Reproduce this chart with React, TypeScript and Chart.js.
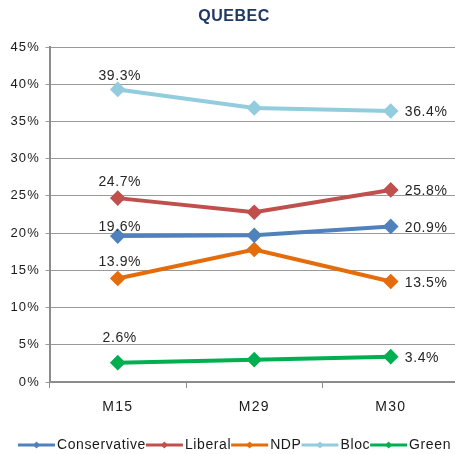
import React, { useEffect, useRef } from "react";
import { Chart, registerables } from "chart.js";

Chart.register(...registerables);

const categories = ["M15", "M29", "M30"];
const seriesNames = ["Conservative", "Liberal", "NDP", "Bloc", "Green"];
const conservative = [19.6, 19.7, 20.9];
const liberal = [24.7, 22.8, 25.8];
const ndp = [13.9, 17.8, 13.5];
const bloc = [39.3, 36.8, 36.4];
const green = [2.6, 3.0, 3.4];
const seriesValues = [conservative, liberal, ndp, bloc, green];
const seriesColors = ["#4F81BD", "#C0504D", "#E46C0A", "#93CDDD", "#00B050"];
const yTicks = [0, 5, 10, 15, 20, 25, 30, 35, 40, 45];
const titleText = "QUEBEC";

const FONT = "'Liberation Sans', Arial, sans-serif";
const firstLabelLift = [9, 16, 16, 13, 25];

const spacingPlugin = {
  id: "spacing",
  beforeDraw(chart: any) {
    (chart.ctx as any).letterSpacing = "1.2px";
  },
};

const titlePlugin = {
  id: "customTitle",
  afterDraw(chart: any) {
    const ctx = chart.ctx;
    ctx.save();
    (ctx as any).letterSpacing = "0.5px";
    ctx.font = `bold 16px ${FONT}`;
    ctx.fillStyle = "#1F3864";
    ctx.textAlign = "center";
    ctx.textBaseline = "middle";
    ctx.fillText(titleText, 234, 17);
    ctx.restore();
  },
};

const labelPlugin = {
  id: "valueLabels",
  afterDatasetsDraw(chart: any) {
    const ctx = chart.ctx;
    ctx.save();
    (ctx as any).letterSpacing = "0.6px";
    ctx.font = `14px ${FONT}`;
    ctx.fillStyle = "#262626";
    chart.data.datasets.forEach((ds: any, di: number) => {
      const meta = chart.getDatasetMeta(di);
      const p0 = meta.data[0];
      ctx.textAlign = "center";
      ctx.textBaseline = "middle";
      ctx.fillText(ds.data[0].toFixed(1) + "%", p0.x + 2, p0.y - firstLabelLift[di]);
      const last = meta.data.length - 1;
      const pl = meta.data[last];
      ctx.textAlign = "left";
      ctx.fillText(ds.data[last].toFixed(1) + "%", pl.x + 14, pl.y + 1.5);
    });
    ctx.restore();
  },
};

const legendPlugin = {
  id: "customLegend",
  afterDraw(chart: any) {
    const ctx = chart.ctx;
    ctx.save();
    (ctx as any).letterSpacing = "0.6px";
    ctx.font = `14px ${FONT}`;
    ctx.textBaseline = "middle";
    ctx.textAlign = "left";
    let x = 18;
    const y = 445;
    seriesNames.forEach((name, i) => {
      ctx.strokeStyle = seriesColors[i];
      ctx.lineWidth = 3;
      ctx.beginPath();
      ctx.moveTo(x, y);
      ctx.lineTo(x + 37, y);
      ctx.stroke();
      ctx.fillStyle = seriesColors[i];
      const cx = x + 18.5;
      const r = 3.5;
      ctx.beginPath();
      ctx.moveTo(cx, y - r);
      ctx.lineTo(cx + r, y);
      ctx.lineTo(cx, y + r);
      ctx.lineTo(cx - r, y);
      ctx.closePath();
      ctx.fill();
      ctx.fillStyle = "#1a1a1a";
      ctx.fillText(name, x + 39, y);
      x += 39 + ctx.measureText(name).width;
    });
    ctx.restore();
  },
};

export default function App() {
  const ref = useRef<HTMLCanvasElement | null>(null);
  useEffect(() => {
    if (!ref.current) return;
    const chart = new Chart(ref.current, {
      type: "line",
      data: {
        labels: categories,
        datasets: seriesNames.map((name, i) => ({
          label: name,
          data: seriesValues[i],
          borderColor: seriesColors[i],
          backgroundColor: seriesColors[i],
          borderWidth: 4,
          pointStyle: "rectRot",
          pointRadius: 5,
          pointHoverRadius: 5,
          tension: 0,
          fill: false,
        })),
      },
      options: {
        responsive: false,
        animation: false,
        devicePixelRatio: 1,
        layout: { padding: { top: 47, left: 0, right: 0, bottom: 0 } },
        plugins: {
          legend: { display: false },
          title: { display: false },
          tooltip: { enabled: false },
        },
        scales: {
          x: {
            offset: true,
            grid: {
              offset: true,
              drawOnChartArea: false,
              drawTicks: true,
              tickLength: 6,
              color: "#8c8c8c",
              lineWidth: 1,
            },
            border: { display: true, color: "#8c8c8c", width: 2 },
            ticks: {
              font: { family: FONT, size: 14 },
              color: "#1a1a1a",
              padding: 11,
              maxRotation: 0,
            },
            afterFit: (s: any) => {
              s.height = 72;
              s.paddingLeft = 0;
              s.paddingRight = 0;
            },
          },
          y: {
            min: 0,
            max: 45,
            afterBuildTicks: (s: any) => {
              s.ticks = yTicks.map((v) => ({ value: v }));
            },
            grid: {
              color: "#999999",
              lineWidth: 1,
              drawTicks: true,
              tickLength: 4,
            },
            border: { display: true, color: "#8c8c8c", width: 2 },
            ticks: {
              font: { family: FONT, size: 13 },
              color: "#1a1a1a",
              padding: 5.5,
              callback: (v: any) => v + "%",
            },
            afterFit: (s: any) => {
              s.width = 49.5;
            },
          },
        },
      },
      plugins: [spacingPlugin, titlePlugin, labelPlugin, legendPlugin],
    });
    return () => chart.destroy();
  }, []);
  return (
    <div style={{ position: "fixed", left: 0, top: 0, width: 455, height: 454, overflow: "hidden", background: "#fff" }}>
      <canvas ref={ref} width={468} height={454} style={{ display: "block" }} />
    </div>
  );
}
